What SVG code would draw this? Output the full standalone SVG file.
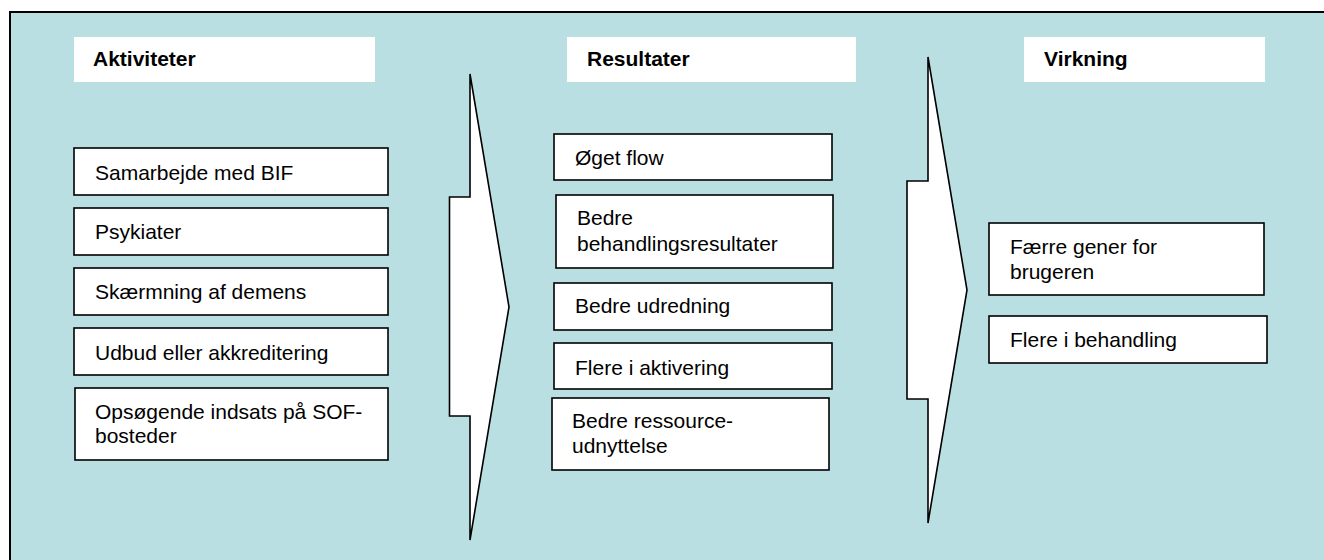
<svg xmlns="http://www.w3.org/2000/svg" width="1324" height="560" viewBox="0 0 1324 560">
  <style>
    .panel { fill: #BADFE2; stroke: #000; stroke-width: 2; }
    .head { fill: #FFFFFF; stroke: none; }
    .box { fill: #FFFFFF; stroke: #000; stroke-width: 1.6; }
    .arrow { fill: #FFFFFF; stroke: #000; stroke-width: 1.6; stroke-linejoin: miter; }
    text { font-family: "Liberation Sans", Arial, sans-serif; font-size: 21px; fill: #000; }
    .bold { font-weight: bold; }
  </style>

  <!-- background panel -->
  <rect class="panel" x="10" y="12" width="1330" height="560"/>

  <!-- column headings -->
  <g id="head-aktiviteter">
    <rect class="head" x="74" y="37" width="301" height="45"/>
    <text class="bold" x="93" y="66">Aktiviteter</text>
  </g>
  <g id="head-resultater">
    <rect class="head" x="567" y="37" width="289" height="45"/>
    <text class="bold" x="587" y="66">Resultater</text>
  </g>
  <g id="head-virkning">
    <rect class="head" x="1024" y="37" width="241" height="45"/>
    <text class="bold" x="1044" y="66">Virkning</text>
  </g>

  <!-- flow arrows between columns -->
  <g id="connectors">
    <polygon class="arrow" points="470,74 509,307 470,540 470,416 449.5,416 449.5,197 470,197"/>
    <polygon class="arrow" points="928,57 967,290 928,523 928,399 907,399 907,181 928,181"/>
  </g>

  <!-- activities -->
  <g id="akt-samarbejde">
    <rect class="box" x="74" y="148" width="314" height="47"/>
    <text x="95" y="180">Samarbejde med BIF</text>
  </g>
  <g id="akt-psykiater">
    <rect class="box" x="74" y="208" width="314" height="47"/>
    <text x="95" y="239">Psykiater</text>
  </g>
  <g id="akt-skaermning">
    <rect class="box" x="74" y="268" width="314" height="47"/>
    <text x="95" y="299">Skærmning af demens</text>
  </g>
  <g id="akt-udbud">
    <rect class="box" x="74" y="328" width="314" height="47"/>
    <text x="95" y="360">Udbud eller akkreditering</text>
  </g>
  <g id="akt-opsoegende">
    <rect class="box" x="75" y="388" width="313" height="72"/>
    <text x="95" y="419">Opsøgende indsats på SOF-</text>
    <text x="95" y="443">bosteder</text>
  </g>

  <!-- results -->
  <g id="res-flow">
    <rect class="box" x="554" y="134" width="278" height="46"/>
    <text x="575" y="165">Øget flow</text>
  </g>
  <g id="res-behandling">
    <rect class="box" x="556" y="195" width="277" height="73"/>
    <text x="577" y="225">Bedre</text>
    <text x="577" y="251">behandlingsresultater</text>
  </g>
  <g id="res-udredning">
    <rect class="box" x="554" y="283" width="278" height="47"/>
    <text x="575" y="313">Bedre udredning</text>
  </g>
  <g id="res-aktivering">
    <rect class="box" x="554" y="343" width="278" height="46"/>
    <text x="575" y="375">Flere i aktivering</text>
  </g>
  <g id="res-ressource">
    <rect class="box" x="552" y="398" width="277" height="72"/>
    <text x="572" y="428">Bedre ressource-</text>
    <text x="572" y="453">udnyttelse</text>
  </g>

  <!-- effects -->
  <g id="virk-gener">
    <rect class="box" x="989" y="223" width="275" height="72"/>
    <text x="1010" y="254">Færre gener for</text>
    <text x="1010" y="279">brugeren</text>
  </g>
  <g id="virk-behandling">
    <rect class="box" x="989" y="316" width="278" height="47"/>
    <text x="1010" y="347">Flere i behandling</text>
  </g>
</svg>
